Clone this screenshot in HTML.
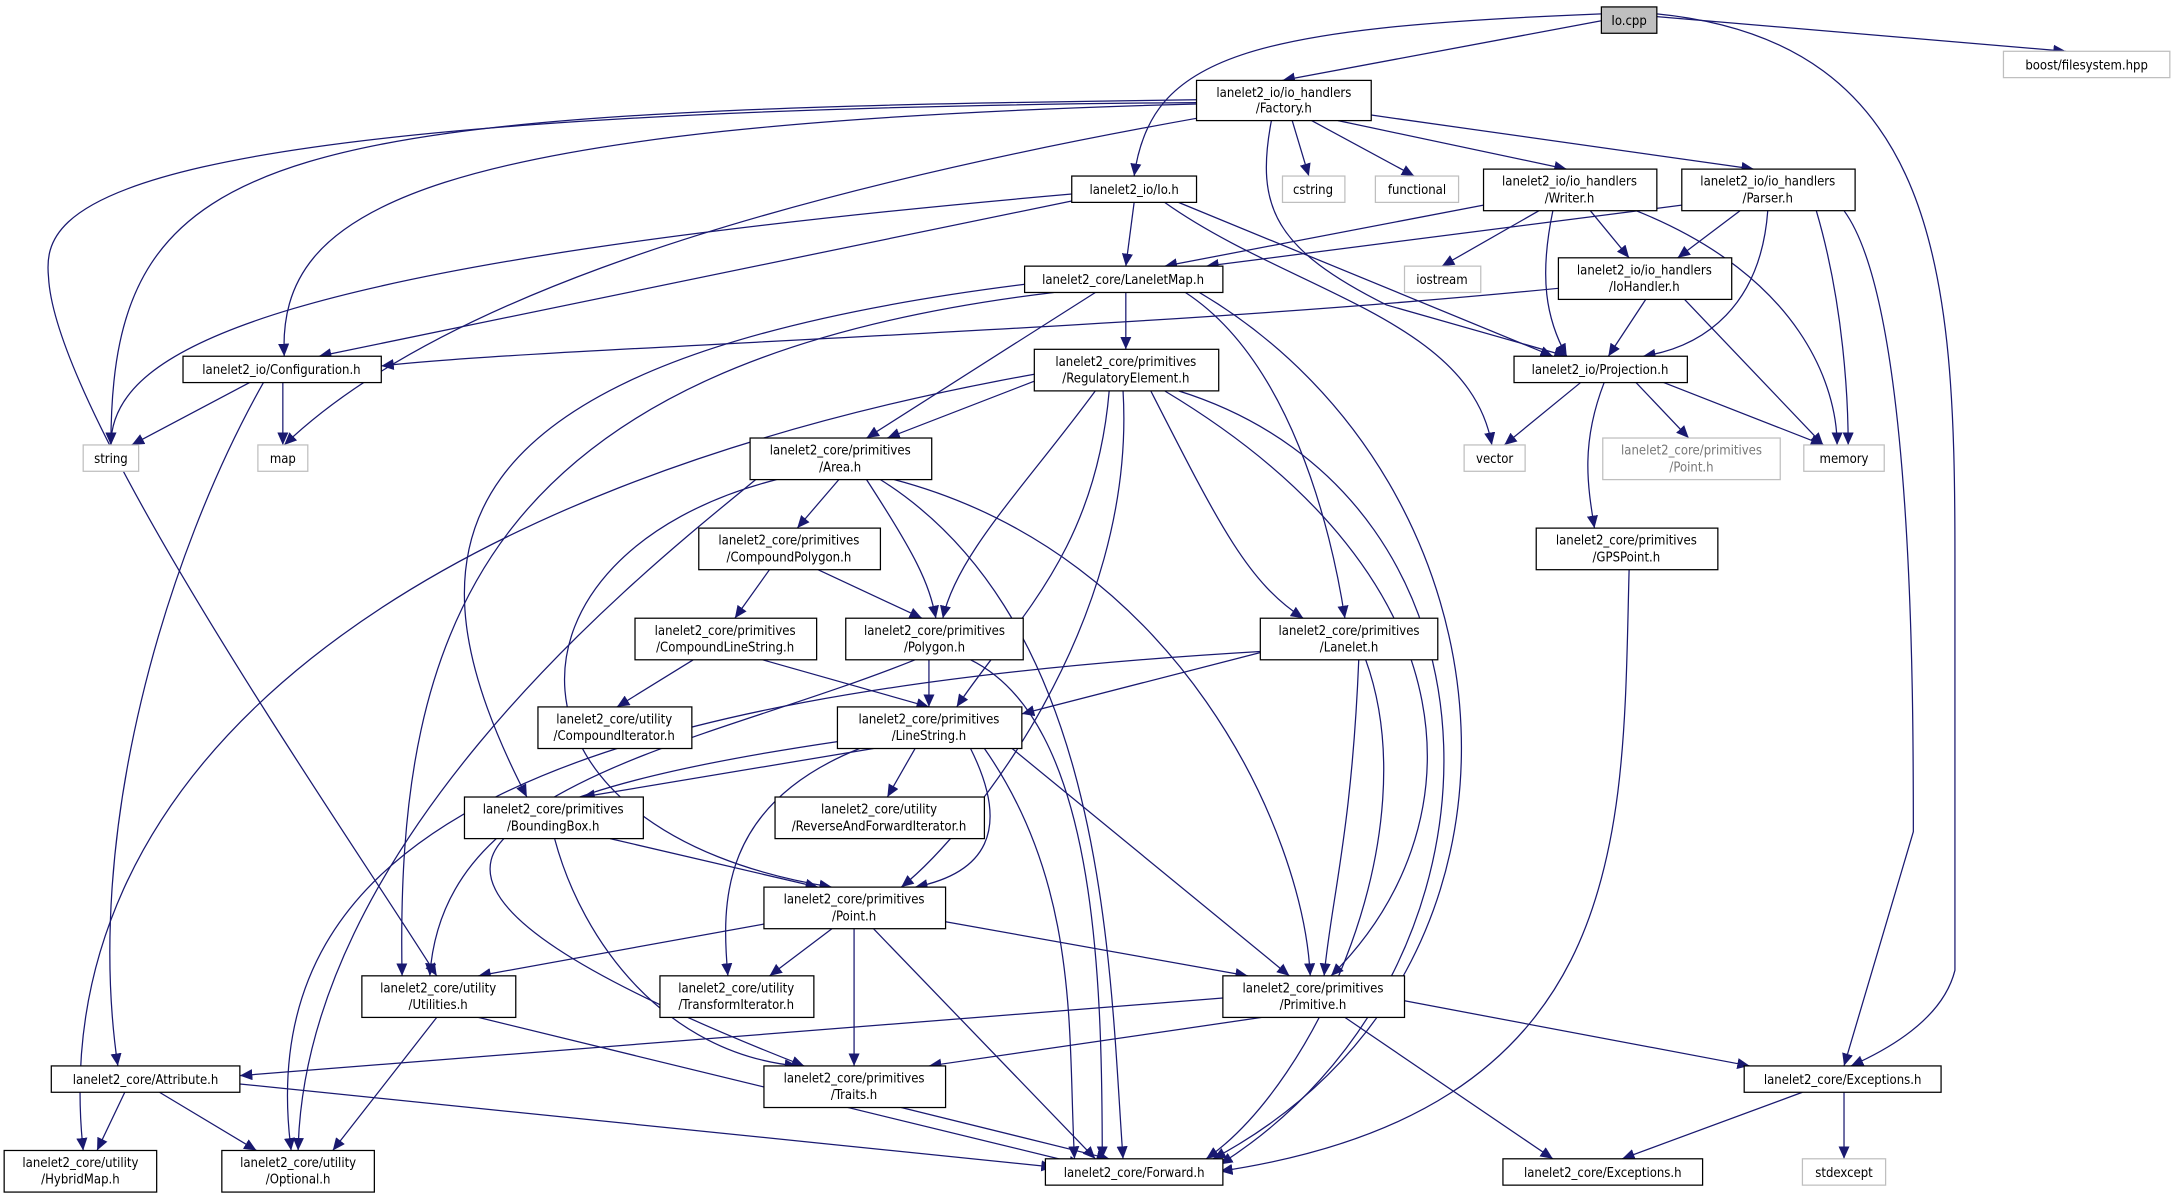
<!DOCTYPE html>
<html><head><meta charset="utf-8"><style>
html,body{margin:0;padding:0;background:#fff;}
svg{display:block;}
text{font-family:"DejaVu Sans Condensed","DejaVu Sans","Liberation Sans",sans-serif;font-size:9.4px;fill:#000;text-anchor:middle;}
.n{fill:#fff;stroke:#000;stroke-width:0.9;}
.g{fill:#fff;stroke:#bfbfbf;stroke-width:0.9;}
.e{fill:none;stroke:#191970;stroke-width:0.9;marker-end:url(#a);}
</style></head><body>
<svg width="2174" height="1199" viewBox="0 0 1568 865" preserveAspectRatio="none" xmlns="http://www.w3.org/2000/svg">
<defs><marker id="a" markerUnits="userSpaceOnUse" markerWidth="10" markerHeight="8" refX="9" refY="4" orient="auto"><path d="M0,0 L9,4 L0,8 z" fill="#191970"/></marker></defs>
<g>
<path class="e" d="M1155,15 L925,58"/>
<path class="e" d="M1155,10 C900,20 830,40 818,127"/>
<path class="e" d="M1195,12 L1490,37"/>
<path class="e" d="M1195,10 C1400,30 1410,200 1410,400 L1410,700 Q1400,740 1335,769"/>
<path class="e" d="M863,72 C200,80 80,100 80,321"/>
<path class="e" d="M863,75 C300,90 200,150 205,257"/>
<path class="e" d="M863,74 C60,80 30,150 35,200 C40,300 250,600 315,704"/>
<path class="e" d="M865,85 C500,150 300,230 205,321"/>
<path class="e" d="M932,87 L944,127"/>
<path class="e" d="M946,87 L1020,127"/>
<path class="e" d="M965,87 L1130,122"/>
<path class="e" d="M989,83 L1265,122"/>
<path class="e" d="M917,87 C905,150 920,180 1000,220 L1130,257"/>
<path class="e" d="M773,140 C200,190 80,250 80,321"/>
<path class="e" d="M773,145 L230,257"/>
<path class="e" d="M818,146 L812,192"/>
<path class="e" d="M840,146 C930,210 1060,230 1076,321"/>
<path class="e" d="M850,146 L1120,257"/>
<path class="e" d="M1070,148 L840,192"/>
<path class="e" d="M1110,152 L1040,192"/>
<path class="e" d="M1120,152 C1110,200 1115,230 1130,257"/>
<path class="e" d="M1147,152 L1175,186"/>
<path class="e" d="M1180,152 C1300,200 1325,280 1325,321"/>
<path class="e" d="M1213,148 L870,192"/>
<path class="e" d="M1255,152 L1210,186"/>
<path class="e" d="M1275,152 C1270,220 1230,250 1185,257"/>
<path class="e" d="M1310,152 C1330,220 1333,290 1333,321"/>
<path class="e" d="M1330,152 C1380,220 1380,500 1380,600 L1330,769"/>
<path class="e" d="M1124,208 C800,240 400,250 275,264"/>
<path class="e" d="M1187,216 L1160,257"/>
<path class="e" d="M1215,216 L1315,321"/>
<path class="e" d="M812,211 L812,252"/>
<path class="e" d="M790,211 L625,316"/>
<path class="e" d="M855,211 C930,260 960,380 970,446"/>
<path class="e" d="M865,211 C1100,350 1130,700 875,836"/>
<path class="e" d="M740,205 C300,260 290,400 380,575"/>
<path class="e" d="M760,211 C350,260 285,450 290,704"/>
<path class="e" d="M180,276 L95,321"/>
<path class="e" d="M204,276 L204,321"/>
<path class="e" d="M190,276 C120,400 60,600 85,769"/>
<path class="e" d="M746,275 L640,316"/>
<path class="e" d="M746,270 C300,350 30,550 60,830"/>
<path class="e" d="M790,282 C740,350 690,400 680,446"/>
<path class="e" d="M800,282 C790,400 730,450 690,510"/>
<path class="e" d="M810,282 C820,450 700,600 650,640"/>
<path class="e" d="M830,282 C880,380 900,420 940,446"/>
<path class="e" d="M840,282 C1070,420 1065,600 960,704"/>
<path class="e" d="M850,282 C1100,360 1100,700 880,840"/>
<path class="e" d="M605,346 L575,381"/>
<path class="e" d="M625,346 C660,400 670,420 675,446"/>
<path class="e" d="M545,346 C480,400 220,600 215,830"/>
<path class="e" d="M560,346 C350,400 350,600 600,640"/>
<path class="e" d="M635,346 C800,450 800,700 810,836"/>
<path class="e" d="M645,346 C850,400 940,600 945,704"/>
<path class="e" d="M555,411 L530,446"/>
<path class="e" d="M590,411 L665,446"/>
<path class="e" d="M500,476 L445,510"/>
<path class="e" d="M550,476 L670,510"/>
<path class="e" d="M670,476 L670,510"/>
<path class="e" d="M660,476 C500,540 320,560 310,704"/>
<path class="e" d="M700,476 C790,520 795,700 795,836"/>
<path class="e" d="M912,470 L737,515"/>
<path class="e" d="M980,476 C975,600 960,650 955,704"/>
<path class="e" d="M985,476 C1030,600 950,780 870,836"/>
<path class="e" d="M909,470 C400,500 180,600 210,830"/>
<path class="e" d="M630,540 L420,575"/>
<path class="e" d="M660,540 L640,575"/>
<path class="e" d="M700,540 C730,600 710,630 660,640"/>
<path class="e" d="M620,540 C520,580 520,650 525,704"/>
<path class="e" d="M730,540 L930,704"/>
<path class="e" d="M710,540 C780,640 770,750 775,836"/>
<path class="e" d="M604,535 C300,580 250,640 580,769"/>
<path class="e" d="M440,605 L590,640"/>
<path class="e" d="M400,605 C420,680 480,760 575,769"/>
<path class="e" d="M560,665 L345,704"/>
<path class="e" d="M600,670 L555,704"/>
<path class="e" d="M616,670 L616,769"/>
<path class="e" d="M682,665 L900,704"/>
<path class="e" d="M630,670 L790,836"/>
<path class="e" d="M315,734 L240,830"/>
<path class="e" d="M345,734 L780,840"/>
<path class="e" d="M882,720 L173,776"/>
<path class="e" d="M910,734 L670,769"/>
<path class="e" d="M1013,722 L1262,769"/>
<path class="e" d="M970,734 L1120,836"/>
<path class="e" d="M90,788 L70,830"/>
<path class="e" d="M115,788 L185,830"/>
<path class="e" d="M173,782 L760,842"/>
<path class="e" d="M650,799 L800,836"/>
<path class="e" d="M1175,411 C1170,600 1180,800 880,845"/>
<path class="e" d="M1140,276 L1085,321"/>
<path class="e" d="M1157,276 C1140,320 1145,350 1150,381"/>
<path class="e" d="M1180,276 L1218,316"/>
<path class="e" d="M1200,276 L1315,321"/>
<path class="e" d="M1300,788 L1170,836"/>
<path class="e" d="M1330,788 L1330,836"/>
</g>
<g>
<rect x="1155" y="5" width="40" height="19" fill="#bfbfbf" stroke="#000" stroke-width="0.9"/><text x="1175" y="18">Io.cpp</text>
<rect class="g" x="1445" y="37" width="120" height="19"/><text x="1505" y="50">boost/filesystem.hpp</text>
<rect class="n" x="863" y="58" width="126" height="29"/><text x="926" y="70">lanelet2_io/io_handlers</text><text x="926" y="81">/Factory.h</text>
<rect class="n" x="773" y="127" width="90" height="19"/><text x="818" y="140">lanelet2_io/Io.h</text>
<rect class="g" x="925" y="127" width="45" height="19"/><text x="947" y="140">cstring</text>
<rect class="g" x="992" y="127" width="60" height="19"/><text x="1022" y="140">functional</text>
<rect class="n" x="1070" y="122" width="125" height="30"/><text x="1132" y="134">lanelet2_io/io_handlers</text><text x="1132" y="146">/Writer.h</text>
<rect class="n" x="1213" y="122" width="125" height="30"/><text x="1275" y="134">lanelet2_io/io_handlers</text><text x="1275" y="146">/Parser.h</text>
<rect class="n" x="739" y="192" width="143" height="19"/><text x="810" y="205">lanelet2_core/LaneletMap.h</text>
<rect class="g" x="1013" y="192" width="55" height="19"/><text x="1040" y="205">iostream</text>
<rect class="n" x="1124" y="186" width="125" height="30"/><text x="1186" y="198">lanelet2_io/io_handlers</text><text x="1186" y="210">/IoHandler.h</text>
<rect class="n" x="132" y="257" width="143" height="19"/><text x="203" y="270">lanelet2_io/Configuration.h</text>
<rect class="n" x="746" y="252" width="133" height="30"/><text x="812" y="264">lanelet2_core/primitives</text><text x="812" y="276">/RegulatoryElement.h</text>
<rect class="n" x="1092" y="257" width="125" height="19"/><text x="1154" y="270">lanelet2_io/Projection.h</text>
<rect class="g" x="60" y="321" width="40" height="19"/><text x="80" y="334">string</text>
<rect class="g" x="186" y="321" width="36" height="19"/><text x="204" y="334">map</text>
<rect class="g" x="1056" y="321" width="44" height="19"/><text x="1078" y="334">vector</text>
<rect class="g" x="1156" y="316" width="128" height="30"/><text x="1220" y="328" style="fill:#777">lanelet2_core/primitives</text><text x="1220" y="340" style="fill:#777">/Point.h</text>
<rect class="g" x="1301" y="321" width="58" height="19"/><text x="1330" y="334">memory</text>
<rect class="n" x="541" y="316" width="131" height="30"/><text x="606" y="328">lanelet2_core/primitives</text><text x="606" y="340">/Area.h</text>
<rect class="n" x="1108" y="381" width="131" height="30"/><text x="1173" y="393">lanelet2_core/primitives</text><text x="1173" y="405">/GPSPoint.h</text>
<rect class="n" x="504" y="381" width="131" height="30"/><text x="569" y="393">lanelet2_core/primitives</text><text x="569" y="405">/CompoundPolygon.h</text>
<rect class="n" x="458" y="446" width="131" height="30"/><text x="523" y="458">lanelet2_core/primitives</text><text x="523" y="470">/CompoundLineString.h</text>
<rect class="n" x="610" y="446" width="128" height="30"/><text x="674" y="458">lanelet2_core/primitives</text><text x="674" y="470">/Polygon.h</text>
<rect class="n" x="909" y="446" width="128" height="30"/><text x="973" y="458">lanelet2_core/primitives</text><text x="973" y="470">/Lanelet.h</text>
<rect class="n" x="388" y="510" width="111" height="30"/><text x="443" y="522">lanelet2_core/utility</text><text x="443" y="534">/CompoundIterator.h</text>
<rect class="n" x="604" y="510" width="133" height="30"/><text x="670" y="522">lanelet2_core/primitives</text><text x="670" y="534">/LineString.h</text>
<rect class="n" x="335" y="575" width="129" height="30"/><text x="399" y="587">lanelet2_core/primitives</text><text x="399" y="599">/BoundingBox.h</text>
<rect class="n" x="559" y="575" width="151" height="30"/><text x="634" y="587">lanelet2_core/utility</text><text x="634" y="599">/ReverseAndForwardIterator.h</text>
<rect class="n" x="551" y="640" width="131" height="30"/><text x="616" y="652">lanelet2_core/primitives</text><text x="616" y="664">/Point.h</text>
<rect class="n" x="261" y="704" width="111" height="30"/><text x="316" y="716">lanelet2_core/utility</text><text x="316" y="728">/Utilities.h</text>
<rect class="n" x="476" y="704" width="111" height="30"/><text x="531" y="716">lanelet2_core/utility</text><text x="531" y="728">/TransformIterator.h</text>
<rect class="n" x="882" y="704" width="131" height="30"/><text x="947" y="716">lanelet2_core/primitives</text><text x="947" y="728">/Primitive.h</text>
<rect class="n" x="37" y="769" width="136" height="19"/><text x="105" y="782">lanelet2_core/Attribute.h</text>
<rect class="n" x="551" y="769" width="131" height="30"/><text x="616" y="781">lanelet2_core/primitives</text><text x="616" y="793">/Traits.h</text>
<rect class="n" x="1258" y="769" width="142" height="19"/><text x="1329" y="782">lanelet2_core/Exceptions.h</text>
<rect class="n" x="3" y="830" width="110" height="30"/><text x="58" y="842">lanelet2_core/utility</text><text x="58" y="854">/HybridMap.h</text>
<rect class="n" x="160" y="830" width="110" height="30"/><text x="215" y="842">lanelet2_core/utility</text><text x="215" y="854">/Optional.h</text>
<rect class="n" x="754" y="836" width="128" height="19"/><text x="818" y="849">lanelet2_core/Forward.h</text>
<rect class="n" x="1084" y="836" width="144" height="19"/><text x="1156" y="849">lanelet2_core/Exceptions.h</text>
<rect class="g" x="1300" y="836" width="60" height="19"/><text x="1330" y="849">stdexcept</text>
</g>
</svg>
</body></html>
